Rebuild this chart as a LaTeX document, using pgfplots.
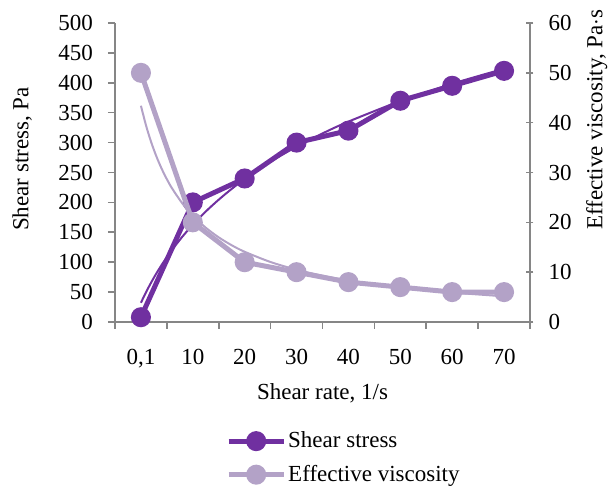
\documentclass[border=0pt]{standalone}
\usepackage{fontspec}
\setmainfont{Liberation Serif}
\usepackage{pgfplots}
\pgfplotsset{compat=1.18}
\definecolor{darkp}{HTML}{7030A0}
\definecolor{lightp}{HTML}{B3A2C7}
\definecolor{axisgray}{HTML}{868686}
\pgfplotsset{
  common/.style={
    scale only axis, width=207.5pt, height=149.5pt,
    xmin=0.5, xmax=8.5,
    /pgf/number format/assume math mode=true,
    axis line style={axisgray, line width=0.8pt},
    every tick/.style={axisgray, line width=0.8pt},
    major tick length=3.5pt,
    tick label style={black},
    label style={black},
  },
  leg/.style={legend image code/.code={
      \draw[##1] (0pt,0pt) -- (27.5pt,0pt);
      \draw[##1] plot coordinates {(13.75pt,0pt)};}},
}
\begin{document}
\fontsize{11.5pt}{13.8pt}\selectfont
\begin{tikzpicture}
\begin{axis}[common, name=ax,
  axis x line*=bottom, axis y line*=left,
  tick align=outside,
  ymin=0, ymax=500, ytick={0,50,...,500},
  xtick={0.5,1.5,...,8.5},
  x tick label as interval,
  xticklabels={{0,1},10,20,30,40,50,60,70},
  xticklabel style={yshift=-6pt},
  yticklabel style={xshift=-3.5pt},
  every axis y label/.style={at={(axis description cs:-0.224,0.545)}, rotate=90, anchor=center},
  every axis x label/.style={at={(axis description cs:0.5,-0.237)}, anchor=center},
  ylabel={Shear stress, Pa},
  xlabel={Shear rate, 1/s},
]
\addplot[darkp, line width=2.5pt, mark=*, mark size=3.75pt, mark options={solid}] coordinates {
(1,8) (2,200) (3,240) (4,300) (5,320) (6,370) (7,395) (8,420)};
\addplot[darkp, line width=1pt, smooth] coordinates {
(1,32.2) (1.1,50.1) (1.2,66.5) (1.3,81.6) (1.4,95.5) (1.5,108.5) (1.6,120.7) (1.8,142.8) (2,162.6) (2.25,184.8) (2.5,204.6) (2.75,222.6) (3,238.9) (3.5,268.0) (4,293.1) (4.5,315.3) (5,335.1) (6,369.4) (7,398.4) (8,423.5)};
\end{axis}
\begin{axis}[common,
  axis x line=none, axis y line*=right,
  tick align=center,
  ymin=0, ymax=60, ytick={0,10,...,60},
  yticklabel style={xshift=3.5pt},
  every axis y label/.style={at={(axis description cs:1.161,0.676)}, rotate=90, anchor=center},
  ylabel={Effective viscosity, Pa$\cdot$s},
  leg,
  legend style={at={(0.267,-0.358)}, anchor=north west, draw=none, fill=none, inner sep=0pt,
    row sep=5pt, nodes={inner sep=1pt, text=black}},
  legend cell align=left,
]
\addlegendimage{darkp, line width=2.5pt, mark=*, mark size=3.75pt}
\addlegendentry{Shear stress}
\addplot[lightp, line width=2.5pt, mark=*, mark size=3.75pt] coordinates {
(1,50) (2,20) (3,12) (4,10) (5,8) (6,7) (7,6) (8,6)};
\addlegendentry{Effective viscosity}
\addplot[lightp, line width=1pt, smooth, forget plot] coordinates {
(1,43.4) (1.1,39.37) (1.2,36.01) (1.3,33.18) (1.4,30.75) (1.5,28.65) (1.6,26.82) (1.8,23.77) (2,21.34) (2.25,18.92) (2.5,16.98) (2.75,15.40) (3,14.09) (3.5,12.03) (4,10.49) (4.5,9.30) (5,8.35) (6,6.93) (7,5.92) (8,5.16)};
\end{axis}
\pgfresetboundingbox
\path ([shift={(-57.5pt,-82pt)}]ax.south west) rectangle ([shift={(40pt,11.5pt)}]ax.north east);
\end{tikzpicture}
\end{document}
